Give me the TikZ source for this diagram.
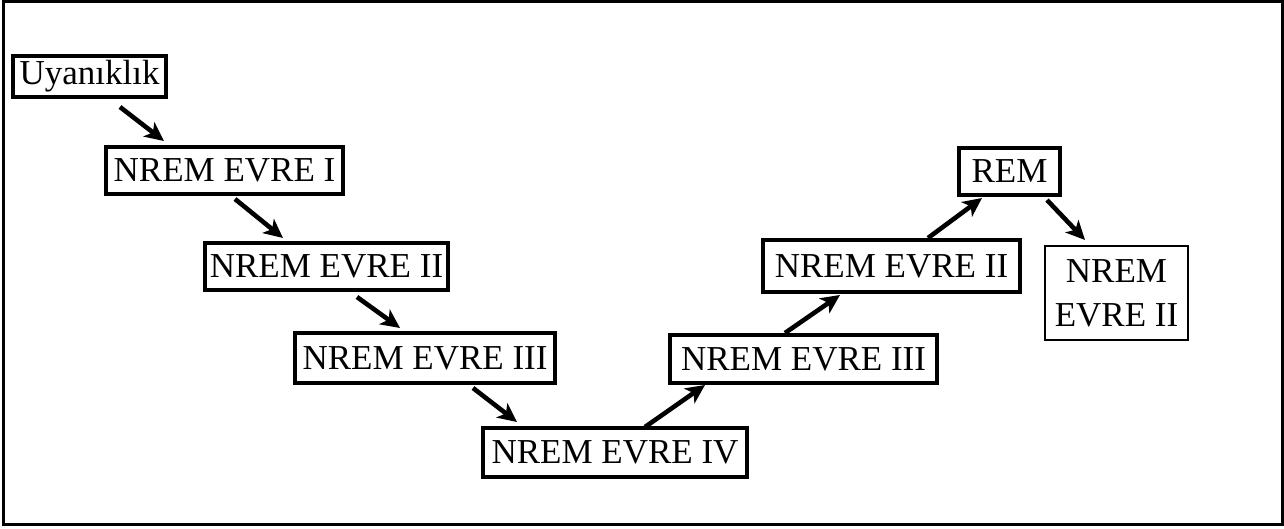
\documentclass[tikz,border=0pt]{standalone}
\usepackage{fontspec}
\setmainfont{Liberation Serif}
\usetikzlibrary{arrows.meta}

\begin{document}
\begin{tikzpicture}[x=1pt,y=-1pt,
  stagebox/.style={draw=black, line width=3.6pt, inner sep=0pt, outer sep=0pt,
    font=\fontsize{35}{44}\selectfont, align=center},
  flow/.style={line width=4.6pt, -{Stealth[length=19pt,width=18pt,inset=5pt]}},
]
\useasboundingbox (0,0) rectangle (1284,529);
% outer frame
\draw[line width=3pt] (3,2) rectangle (1282,524);

% sleep stages
\node[stagebox, minimum width=153pt, minimum height=41pt] (wake) at (89.5,76.5) {Uyanıklık};
\node[stagebox, minimum width=237pt, minimum height=47pt] (n1)   at (224.5,170.5) {NREM EVRE I};
\node[stagebox, minimum width=243pt, minimum height=47pt] (n2)   at (326.5,266.5) {NREM EVRE II};
\node[stagebox, minimum width=260pt, minimum height=50pt] (n3)   at (425,358) {NREM EVRE III};
\node[stagebox, minimum width=264pt, minimum height=49pt] (n4)   at (615,452.5) {NREM EVRE IV};
\node[stagebox, minimum width=267pt, minimum height=48pt] (n3b)  at (803.5,359) {NREM EVRE III};
\node[stagebox, minimum width=257pt, minimum height=52pt] (n2b)  at (891.5,266) {NREM EVRE II};
\node[stagebox, minimum width=101pt, minimum height=47pt] (rem)  at (1009.5,171.5) {REM};
\node[stagebox, line width=2.6pt, minimum width=143pt, minimum height=94pt] (n2c) at (1116.5,293) {NREM\\EVRE II};

% transitions
\draw[flow] ([shift={(30.5,10)}]wake.south) -- ([shift={(-60.5,-6)}]n1.north);
\draw[flow] ([shift={(10.5,5)}]n1.south) -- ([shift={(-43.5,-5)}]n2.north);
\draw[flow] ([shift={(30.5,7)}]n2.south) -- ([shift={(-25,-5)}]n3.north);
\draw[flow] ([shift={(48,5)}]n3.south) -- ([shift={(-98,-6)}]n4.north);
\draw[flow] ([shift={(30,-1)}]n4.north) -- ([shift={(-98.5,2)}]n3b.south);
\draw[flow] ([shift={(-18.5,-2)}]n3b.north) -- ([shift={(-51.5,3)}]n2b.south);
\draw[flow] ([shift={(36.5,-2)}]n2b.north) -- ([shift={(-27.5,3)}]rem.south);
\draw[flow] ([shift={(37.5,5)}]rem.south) -- ([shift={(-31.5,-6)}]n2c.north);
\end{tikzpicture}
\end{document}
